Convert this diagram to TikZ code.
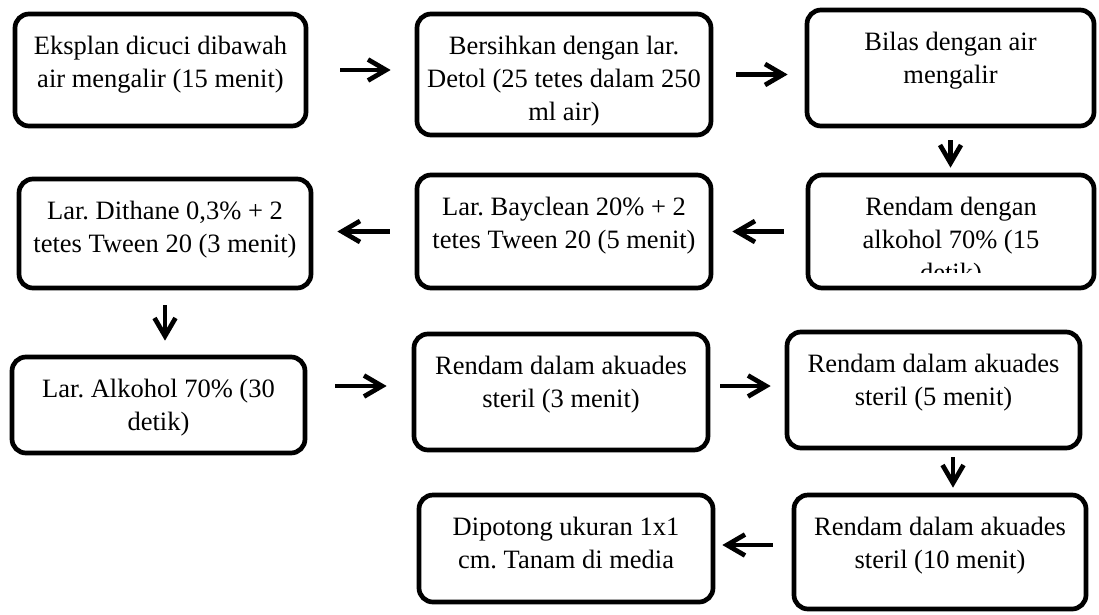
\documentclass[tikz,border=0pt]{standalone}
\usepackage{fontspec}
\setmainfont{Liberation Serif}
\usetikzlibrary{arrows.meta, positioning}
\frenchspacing
\tikzset{
    stepbox/.style={
        rectangle,
        rounded corners=14pt,
        draw=black,
        line width=4.7pt,
        fill=white
    },
    steptext/.style={
        align=center,
        inner sep=0pt,
        font=\fontsize{26.5}{33}\selectfont
    },
    flow/.style={
        draw=black,
        line width=4.7pt,
        -{Straight Barb[length=18pt,width=21pt]}
    }
}
\begin{document}
\begin{tikzpicture}[x=1pt, y=-1pt]
\useasboundingbox (0,0) rectangle (1099,614);

% Row 1 (left to right)
\node[stepbox, minimum width=291pt, minimum height=112pt] (cuci) at (160.5,70) {};
\node[steptext, below=24pt of cuci.north] (cuci-txt) {Eksplan dicuci dibawah\\air mengalir (15 menit)};

\node[stepbox, minimum width=294pt, minimum height=121pt] (detol) at (564,74.5) {};
\node[steptext, below=24pt of detol.north] (detol-txt) {Bersihkan dengan lar.\\Detol (25 tetes dalam 250\\ml air)};

\node[stepbox, minimum width=287pt, minimum height=116pt] (bilas) at (950.5,68) {};
\node[steptext, below=24pt of bilas.north] (bilas-txt) {Bilas dengan air\\mengalir};

% Row 2 (right to left)
\node[stepbox, minimum width=286pt, minimum height=113pt] (alk15) at (951,231.5) {};
\begin{scope}
    \clip (alk15.north west) rectangle ([yshift=-100pt]alk15.north east);
    \node[steptext, below=24pt of alk15.north] (alk15-txt) {Rendam dengan\\alkohol 70\% (15\\detik)};
\end{scope}

\node[stepbox, minimum width=294pt, minimum height=113pt] (bayclean) at (564,231.5) {};
\node[steptext, below=24pt of bayclean.north] (bayclean-txt) {Lar. Bayclean 20\% + 2\\tetes Tween 20 (5 menit)};

\node[stepbox, minimum width=292pt, minimum height=109pt] (dithane) at (165,233.5) {};
\node[steptext, below=24pt of dithane.north] (dithane-txt) {Lar. Dithane 0,3\% + 2\\tetes Tween 20 (3 menit)};

% Row 3 (left to right)
\node[stepbox, minimum width=293pt, minimum height=96pt] (alk30) at (158.5,405) {};
\node[steptext, below=24pt of alk30.north] (alk30-txt) {Lar. Alkohol 70\% (30\\detik)};

\node[stepbox, minimum width=294pt, minimum height=116pt] (aq3) at (561,392) {};
\node[steptext, below=24pt of aq3.north] (aq3-txt) {Rendam dalam akuades\\steril (3 menit)};

\node[stepbox, minimum width=293pt, minimum height=116pt] (aq5) at (933.5,390) {};
\node[steptext, below=24pt of aq5.north] (aq5-txt) {Rendam dalam akuades\\steril (5 menit)};

% Row 4 (right to left)
\node[stepbox, minimum width=292pt, minimum height=114pt] (aq10) at (940,552) {};
\node[steptext, below=24pt of aq10.north] (aq10-txt) {Rendam dalam akuades\\steril (10 menit)};

\node[stepbox, minimum width=294pt, minimum height=107pt] (tanam) at (566,548.5) {};
\node[steptext, below=24pt of tanam.north] (tanam-txt) {Dipotong ukuran 1x1\\cm. Tanam di media};

% Flow arrows
\draw[flow, shorten <=32pt, shorten >=24pt] (cuci.east) -- (cuci.east -| detol.west);
\draw[flow, shorten <=23pt, shorten >=17pt] (detol.east) -- (detol.east -| bilas.west);
\draw[flow, shorten <=12pt, shorten >=5pt] (bilas.south) -- (bilas.south |- alk15.north);
\draw[flow, shorten <=22pt, shorten >=19pt] (alk15.west) -- (alk15.west -| bayclean.east);
\draw[flow, shorten <=25pt, shorten >=24pt] (bayclean.west) -- (bayclean.west -| dithane.east);
\draw[flow, shorten <=15pt, shorten >=14pt] (dithane.south) -- (dithane.south |- alk30.north);
\draw[flow, shorten <=28pt, shorten >=25pt] ([yshift=19pt]alk30.east) -- ([yshift=19pt]alk30.east -| aq3.west);
\draw[flow, shorten <=10pt, shorten >=14pt] ([yshift=6pt]aq3.east) -- ([yshift=6pt]aq3.east -| aq5.west);
\draw[flow, shorten <=7pt, shorten >=5pt] ([xshift=19.5pt]aq5.south) -- ([xshift=19.5pt]aq5.south |- aq10.north);
\draw[flow, shorten <=19pt, shorten >=7pt] ([yshift=7pt]aq10.west) -- ([yshift=7pt]aq10.west -| tanam.east);

\end{tikzpicture}
\end{document}
